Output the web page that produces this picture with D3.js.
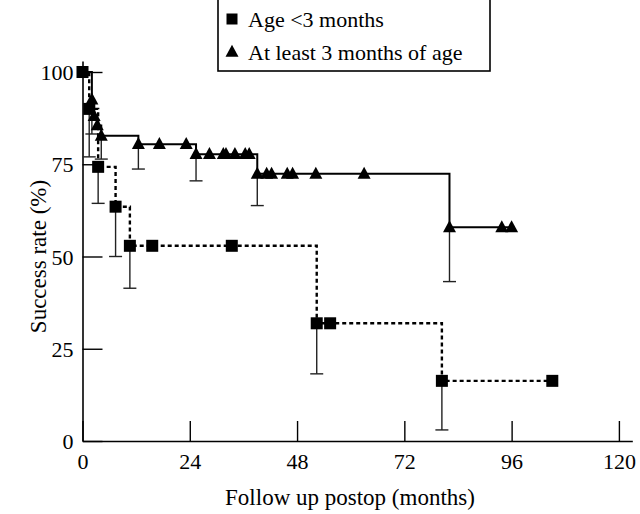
<!DOCTYPE html>
<html>
<head>
<meta charset="utf-8">
<script src="https://cdn.jsdelivr.net/npm/d3@7"></script>
<style>
html,body{margin:0;padding:0;background:#fff;}
svg{display:block;}
text{font-family:"Liberation Serif","Times New Roman",serif;fill:#000;}
</style>
</head>
<body>
<svg id="chart" width="640" height="514"></svg>
<script>
// ---- data ----
const seriesNames = ["Age <3 months", "At least 3 months of age"];
const xTicks = [0, 24, 48, 72, 96, 120];
const yTicks = [0, 25, 50, 75, 100];

// Age <3 months (squares, dotted)
const t1  = [0, 1.5, 3.5, 7.4, 10.6, 15.6, 33.4, 52.4, 55.4, 80.4, 105.1];
const s1  = [100, 90, 74.3, 63.5, 52.9, 52.9, 52.9, 31.9, 31.9, 16.3, 16.3];
const lo1 = [null, 77, 64.4, 50, 41.4, null, null, 18.2, null, 3, null];

// At least 3 months of age (triangles, solid)
const t2  = [0, 2.1, 2.6, 3.3, 4.2, 12.5, 17.2, 23.2, 25.4, 28.4, 31.5, 32.1, 34.1, 36.4, 37.3,
             39.1, 41.2, 42.3, 45.8, 47.0, 52.2, 63.0, 82.1, 93.8, 96.0];
const s2  = [100, 92.5, 88.0, 85.5, 82.7, 80.4, 80.4, 80.4, 77.7, 77.7, 77.7, 77.7, 77.7, 77.7, 77.7,
             72.4, 72.4, 72.4, 72.4, 72.4, 72.4, 72.4, 57.9, 57.9, 57.9];
const lo2 = [null, 83.2, null, null, 76.4, 73.7, null, null, 70.5, null, null, null, null, null, null,
             63.8, null, null, null, null, null, null, 43.2, null, null];

// ---- scales ----
const x = d3.scaleLinear().domain([0, 123]).range([82.5, 82.5 + 123 * 4.47]);
const y = d3.scaleLinear().domain([0, 103]).range([441, 441 - 103 * 3.69]);

const svg = d3.select("#chart");

// axes
const xAxis = d3.axisBottom(x).tickValues(xTicks).tickSizeInner(-20).tickSizeOuter(0).tickPadding(8);
const yAxis = d3.axisLeft(y).tickValues(yTicks).tickSizeInner(-20).tickSizeOuter(0).tickPadding(8);

const gx = svg.append("g").attr("transform", `translate(0,${y(0)})`).call(xAxis);
const gy = svg.append("g").attr("transform", `translate(${x(0)},0)`).call(yAxis);
[gx, gy].forEach(g => {
  g.select(".domain").attr("stroke", "#000").attr("stroke-width", 1.6);
  g.selectAll(".tick line").attr("stroke", "#000").attr("stroke-width", 1.4);
  g.selectAll(".tick text").style("font-family", '"Liberation Serif", serif').style("font-size", "22px").attr("fill", "#000");
});
gx.selectAll(".tick text").attr("dy", "0.9em");
gy.selectAll(".tick text").attr("dx", "-1").attr("dy", "0.35em");

// axis titles
svg.append("text").attr("x", 350).attr("y", 505).attr("text-anchor", "middle")
  .style("font-size", "23px").text("Follow up postop (months)");
svg.append("text").attr("transform", `translate(46,${y(50)}) rotate(-90)`).attr("text-anchor", "middle")
  .style("font-size", "23px").text("Success rate (%)");

// step lines
const pts1 = t1.map((t, i) => [t, s1[i]]);
const pts2 = t2.map((t, i) => [t, s2[i]]);
const line = d3.line().x(d => x(d[0])).y(d => y(d[1])).curve(d3.curveStepAfter);

// error bars
function errorBars(ts, ss, los) {
  const g = svg.append("g");
  ts.forEach((t, i) => {
    if (los[i] == null) return;
    g.append("line").attr("x1", x(t)).attr("x2", x(t)).attr("y1", y(ss[i])).attr("y2", y(los[i]))
      .attr("stroke", "#222").attr("stroke-width", 1.4);
    g.append("line").attr("x1", x(t) - 6.5).attr("x2", x(t) + 6.5).attr("y1", y(los[i])).attr("y2", y(los[i]))
      .attr("stroke", "#222").attr("stroke-width", 1.4);
  });
}
errorBars(t1, s1, lo1);
errorBars(t2, s2, lo2);

svg.append("path").attr("d", line(pts1)).attr("fill", "none").attr("stroke", "#000")
  .attr("stroke-width", 2.4).attr("stroke-dasharray", "4,3");
svg.append("path").attr("d", line(pts2)).attr("fill", "none").attr("stroke", "#000")
  .attr("stroke-width", 2);

// markers
const sq = 12;
svg.append("g").selectAll("rect").data(pts1).join("rect")
  .attr("x", d => x(d[0]) - sq / 2).attr("y", d => y(d[1]) - sq / 2)
  .attr("width", sq).attr("height", sq).attr("fill", "#000");

function triPath(cx, cy, w, h) {
  return `M${cx},${cy - h * 0.6}L${cx + w / 2},${cy + h * 0.4}L${cx - w / 2},${cy + h * 0.4}Z`;
}
svg.append("g").selectAll("path").data(pts2.slice(1)).join("path")
  .attr("d", d => triPath(x(d[0]), y(d[1]), 13, 12)).attr("fill", "#000");

// legend
const lg = svg.append("g");
lg.append("rect").attr("x", 218).attr("y", -1).attr("width", 272).attr("height", 72)
  .attr("fill", "#fff").attr("stroke", "#000").attr("stroke-width", 1.6);
lg.append("rect").attr("x", 232 - 5.5).attr("y", 19 - 5.5).attr("width", 11).attr("height", 11).attr("fill", "#000");
lg.append("path").attr("d", triPath(232, 52, 13, 12)).attr("fill", "#000");
lg.append("text").attr("x", 248).attr("y", 27).style("font-size", "22px").text(seriesNames[0]);
lg.append("text").attr("x", 248).attr("y", 60).style("font-size", "22px").text(seriesNames[1]);
</script>
</body>
</html>
